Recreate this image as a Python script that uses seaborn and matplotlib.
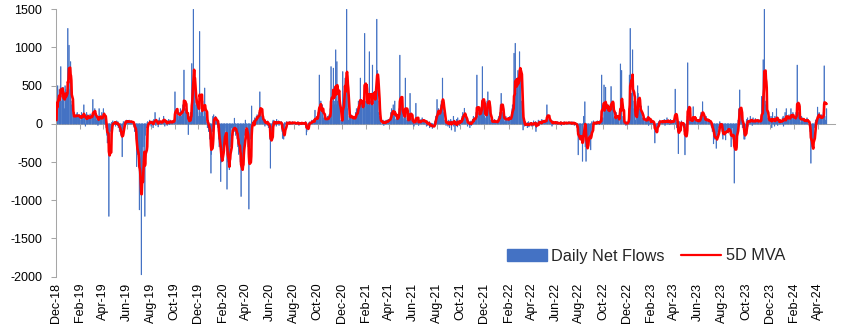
import numpy as np
import pandas as pd
import matplotlib
matplotlib.use("Agg")
import matplotlib.pyplot as plt
import matplotlib.dates as mdates
from matplotlib.patches import Patch
from matplotlib.lines import Line2D
import seaborn as sns

# ---------------- data: daily net flows, one list per month (business days) ----------------
flows_2018 = [  # starts in December
    [50, 480, 120, 500, 300, 450, 200, 350, 500, 750, 300, 420, 150, 480, 350, 200, 500, 450, 300, 350, 400],
]
flows_2019 = [
    [1250, 400, 550, 1030, 450, 815, 300, 250, 100, 150, 50, 120, 80, 150, 100, 60, 130, 90, 150, 100, 80, 120, 60],
    [100, 50, 150, 80, 120, 60, 250, 100, 40, 90, -30, 150, 80, 60, 120, 100, 50, 70, 130, 90],
    [80, 120, 60, 320, 150, 100, 200, 60, 90, 140, 50, 80, -20, 100, 60, 200, 40, 80, 60, 30, 150],
    [100, 200, 150, 50, 80, 20, -50, -100, -150, -250, -100, -1210, -250, -250, -100, -50, 20, 0, -30, 40, 10, 30],
    [20, 10, -30, 40, 0, -20, 30, -50, -100, -80, -60, -100, -150, -430, -60, -40, 30, 20, 10, 40, 30, 20, 50],
    [30, 20, 40, 10, 50, 30, 20, 40, 10, 30, 20, 10, -30, -50, -100, -150, -200, -560, -300, -400],
    [-500, -500, -1125, -400, -600, -1975, -500, -300, -300, -730, -300, -200, -1210, -150, -100, -50, 20, 30, -40, 10, 50, 30, 20],
    [20, -30, 40, 10, -50, 30, 60, 150, 20, -20, 40, 10, 30, -40, 50, 20, 80, 10, -10, 30, 20, 40],
    [60, 100, 40, 20, -30, 50, 30, 10, -20, 40, 60, 20, -10, 30, 50, 20, 10, 40, 30, 20, 60],
    [100, 420, 150, 80, 200, 120, 180, 100, 50, 150, 120, 200, 150, 100, 180, 250, 200, 180, 705, 150, 200, 100, 150],
    [150, 100, -140, 50, 100, 80, 150, 60, 120, 790, 300, 1500, 450, 500, 300, 250, 350, 200, 300, 250, 150],
    [100, 200, 1210, 150, 100, 250, 200, 150, 300, 100, 200, 470, 150, 80, 20, 60, -50, 0, 50, -100, -200, -150],
]
flows_2020 = [
    [-300, -645, -400, -100, 100, 80, 120, 60, 30, 100, 50, 60, 20, -50, -100, -200, -300, -200, -755, -400, -500, -350, -400],
    [-300, -200, -100, -150, -100, -50, -200, -855, -400, -500, -450, -600, -450, -300, -150, -50, -100, 0, -150, -100],
    [75, -100, -50, -150, -100, -200, -150, -300, -250, -400, -350, -500, -450, -950, -500, -600, -230, -400, -300, -150, 50, -50],
    [-50, -100, -200, -300, -400, -1115, -500, -300, -200, 0, 235, -50, -100, 0, 50, 20, 80, 40, 100, 60, 120, 80],
    [100, 150, 100, 420, 150, 200, 100, 80, 30, 60, 40, 20, -30, 50, 10, 30, -20, 40, 20, -50, 10],
    [-200, -580, -150, -100, -50, 30, 50, 20, -20, 40, 10, 30, -30, 60, 20, 10, 40, -20, 30, 20, 10, 30],
    [-50, -100, -190, -200, -150, -100, 20, 10, 30, -10, 20, 0, 10, 30, 20, -10, 10, 20, 0, 30, 10, 20, 10],
    [10, 20, 0, -10, 20, 10, 30, 0, 10, -20, 10, 20, 0, 10, 20, -10, 10, 0, 20, 10, 30],
    [-50, -145, -100, 0, -30, 10, 20, 0, 30, 10, 20, 50, 30, 20, 60, 10, 40, 180, 30, 80, 50, 100],
    [100, 150, 640, 100, 150, 100, 300, 200, 250, 150, 80, 50, 100, 60, 30, 80, 50, 100, 70, 40, 90, 120],
    [200, 300, 750, 200, 250, 300, 730, 200, 300, 250, 970, 200, 250, 815, 300, 400, 350, 300, 200, 50, 0],
    [30, 50, 100, 685, 300, 400, 500, 600, 300, 1500, 500, 200, 100, 50, 150, 80, 100, 60, 120, 80, 100, 50, 90],
]
flows_2021 = [
    [50, 100, 80, 150, 100, 200, 150, 200, 300, 250, 200, 600, 200, 150, 300, 250, 200, 350, 300, 500, 1185],
    [300, 200, 350, 250, 300, 250, 200, 945, 150, 300, 350, 200, 300, 770, 300, 250, 400, 350, 300, 450],
    [1370, 700, 400, 300, 150, 100, 50, 20, 40, 0, 30, 10, 50, 20, -20, 40, 30, 10, 50, 20, 30, 60, 40],
    [60, 40, 100, 150, 80, 200, 150, 250, 100, 80, 50, 300, 60, 40, 80, 100, 50, 150, 200, 150, 900, 200],
    [300, 200, 150, 100, 80, 60, 100, 150, 600, 100, 50, 80, 30, 60, 20, 100, 400, 50, 30, 80, 10],
    [40, 60, 20, -30, 50, 30, 270, 20, 10, 60, 40, -20, 30, 50, 20, 60, 10, 40, 80, 30, 20, 50],
    [30, 50, 20, -30, 10, 40, -20, 0, 30, -50, -40, -30, 10, -20, -60, -50, -30, 0, 30, 10, 50, 100],
    [320, 80, 100, 150, 200, 150, 100, 200, 250, 300, 600, 250, 150, 100, 50, 20, 30, -20, 10, 40, -30, 20],
    [50, 10, -50, 60, 30, -80, 40, 10, 100, -30, 50, 20, -100, 30, 60, 10, -40, 80, 20, -20, 50, 30],
    [30, 60, 100, 50, 150, 100, 205, 120, 100, 50, 20, 40, -30, 10, 50, 20, -50, 30, 10, 40, -20],
    [60, 50, 100, 30, 80, 60, 100, 150, 100, 640, 100, 80, 150, 100, 200, 150, 200, 250, 150, 750, 250, 200],
    [100, 50, 80, 150, 200, 300, 250, 420, 300, 200, 100, 50, 20, 40, 10, 30, 50, 20, 60, 30, 10, 40, 20],
]
flows_2022 = [
    [20, 50, 30, 80, 100, 150, 250, 200, 400, 250, 150, 100, 50, 80, 30, 60, 100, 40, 70, 50, 80],
    [50, 80, 60, 100, 50, 120, 150, 200, 250, 300, 925, 200, 300, 1055, 400, 500, 400, 600, 700, 600],
    [945, 700, 700, 600, 300, 150, 50, -80, 20, -30, 10, 30, -20, 0, -50, 20, -10, 30, -40, 10, 20, 0, -30],
    [20, -30, 10, 40, -20, 0, 30, -100, -50, 20, 10, 50, 30, -20, 10, 40, 0, 20, 60, 30, 10],
    [30, 50, 20, 40, 30, 60, 250, 80, 100, 60, 40, 80, 20, 50, 10, -30, 20, 40, 10, 30, 0, 20],
    [10, 20, 0, 30, -10, 10, 20, 0, 10, 30, 20, -20, 10, 0, 20, 10, 30, 0, 10, 20, 10, 0],
    [10, 20, 30, 0, 10, 20, -10, 10, 30, 0, 20, 10, -20, 10, 0, 20, -30, -50, -100, -80, -405],
    [-200, -100, -150, -150, -200, -250, -490, -100, 0, 100, 290, -300, -250, -490, -250, -300, -200, -150, -100, -150, -200, -340, -100],
    [10, 30, -20, 40, 0, 20, 10, -10, 30, 20, 0, 40, 10, 20, -10, 30, 50, 100, 640, 80, 50, 80],
    [510, 150, 200, 100, 480, 200, 150, 100, 250, 200, 150, 200, 250, 150, 490, 300, 200, 300, 50, 80, 100],
    [100, 50, 150, 100, 100, 50, 100, 50, 0, 785, 50, 0, 700, 100, 50, 30, 0, 20, 10, -20, 30, 0],
    [20, 0, 100, 200, 640, 300, 1250, 400, 300, 300, 970, 300, 200, 100, 200, 50, 0, 100, 300, 500, 400, 300],
]
flows_2023 = [
    [200, 150, 100, 200, 235, 50, 80, 30, 100, 50, 30, 60, 20, 80, 40, 60, 235, -20, 50, 10, 30, 60],
    [30, 50, 20, -10, 40, -20, -50, -250, -100, -80, -60, -20, 10, 30, 20, 50, 10, 40, 20, 30],
    [20, 40, 10, 60, 30, -20, 50, 20, 80, 10, 40, 20, 50, -10, 30, 60, 20, 10, 40, 30, 50, 20, 10],
    [455, 50, 100, 20, -50, -100, -390, -50, 20, 30, -20, 10, 40, -30, 0, 20, -50, -100, -150, -405],
    [-100, -50, 50, 100, 800, 100, 50, 30, 50, 20, 80, 30, 60, 40, 225, 60, 40, 20, 50, 80, 30, 60, 20],
    [40, 30, 60, 100, 80, 150, 120, 290, 100, 50, 80, 60, 30, 50, 100, 40, 20, 60, 30, 50, 40, 20],
    [20, -30, 10, -50, -100, -260, -100, -150, -200, -150, -320, -150, -200, -100, -100, -50, 0, 30, 10, -20, -50],
    [-100, -150, -200, -125, -100, -50, -80, -210, -100, -50, -80, -30, -120, -60, -100, -150, -100, -300, -120, -50, -200, -150, -250],
    [-775, -300, -200, -150, -100, -50, 50, 100, 200, 150, 445, 150, 100, 50, 0, -50, -100, -200, -150, -200, -100],
    [30, 60, 20, 80, -30, 40, 50, 10, 100, 30, 60, -20, 40, 80, 20, 50, 10, 70, 30, 40, 60, 20],
    [30, 50, 20, 60, 10, 40, 100, 360, 200, 840, 400, 500, 1500, 250, 300, 200, 100, 80, 50, 30, 60, 40],
    [50, 100, 30, -50, 80, 150, 20, 60, -30, 100, 40, 200, 10, 50, -20, 80, 30, 60, 10, 40, 20],
]
flows_2024 = [
    [30, 80, 50, 100, -30, 60, 150, 40, 20, 200, 80, 30, 100, 50, 120, 60, 80, 200, 100, 50, 150, 80, 60],
    [100, 50, 80, 150, 100, 200, 770, 150, 100, 50, 80, 20, 60, 100, 40, 80, 30, 60, 20, 50, 40],
    [50, 30, 80, 20, 60, 0, -20, -50, -100, -200, -515, -300, -250, -250, -300, -100, -50, 20, 50, 30, 60],
    [220, 100, 50, 80, 150, 60, 100, 40, 120, 80, 100, 150, 200, 760, 200, 50, 100, 200],
]

y_ticks = [1500, 1000, 500, 0, -500, -1000, -1500, -2000]
series_labels = ["Daily Net Flows", "5D MVA"]

# ---------------- assemble the daily series ----------------
blocks = [(2018, 12, flows_2018), (2019, 1, flows_2019), (2020, 1, flows_2020),
          (2021, 1, flows_2021), (2022, 1, flows_2022), (2023, 1, flows_2023),
          (2024, 1, flows_2024)]
dates, values = [], []
for year, start_month, months in blocks:
    for i, vals in enumerate(months):
        m = start_month + i
        first = pd.Timestamp(year=year, month=m, day=1)
        bdays = pd.bdate_range(first, first + pd.offsets.MonthEnd(0))
        n = min(len(vals), len(bdays))
        dates.extend(bdays[:n])
        values.extend(vals[:n])

df = pd.DataFrame({"date": pd.to_datetime(dates), "flow": values})
df["mva"] = df["flow"].rolling(5, min_periods=1).mean()

# ---------------- figure ----------------
sns.set_style("white")
plt.rcParams["font.family"] = ["Liberation Sans", "DejaVu Sans"]
plt.rcParams["axes.unicode_minus"] = False

W, H = 852, 333
fig = plt.figure(figsize=(W / 100, H / 100), dpi=100)
ax = fig.add_axes([55.7 / W, (H - 276.7) / H, (835 - 55.7) / W, 267.4 / H])

blue = "#4472C4"
red = "#FF0000"
grey = "#A6A6A6"

bars = ax.bar(df["date"], df["flow"], width=1.4, color=blue, edgecolor=blue,
              linewidth=0.45, zorder=2)
for b in bars:
    b.set_snap(False)
sns.lineplot(data=df, x="date", y="mva", ax=ax, color=red, linewidth=1.9,
             zorder=3, legend=False)

x0 = pd.Timestamp("2018-12-01")
ax.set_xlim(x0, x0 + pd.Timedelta(days=1992.6))
ax.set_ylim(-2000, 1500)
ax.set_yticks(y_ticks)
ax.set_yticklabels([str(v) for v in y_ticks])

tick_dates = pd.date_range("2018-12-01", "2024-04-01", freq="2MS")
ax.set_xticks(tick_dates)
ax.xaxis.set_major_formatter(mdates.DateFormatter("%b-%y"))
ax.set_xlabel("")
ax.set_ylabel("")

for s in ["top", "right", "bottom"]:
    ax.spines[s].set_visible(False)
ax.spines["left"].set_color(grey)
ax.spines["left"].set_linewidth(0.75)

ax.tick_params(axis="y", length=3.6, width=0.75, color=grey, pad=6,
               labelsize=9, labelcolor="black", left=True)
ax.tick_params(axis="x", length=0, pad=4.3, labelsize=9, labelcolor="black",
               rotation=90, bottom=True)

# horizontal axis line crossing at zero, with its tick marks
sec = ax.secondary_xaxis(2000 / 3500)
sec.set_xticks(mdates.date2num(tick_dates))
sec.tick_params(axis="x", direction="in", length=3.5, width=0.75, color=grey,
                labeltop=False, labelbottom=False)
for s in sec.spines.values():
    s.set_color(grey)
    s.set_linewidth(0.75)

handles = [Patch(facecolor=blue, edgecolor=blue),
           Line2D([0], [0], color=red, linewidth=1.6)]
ax.legend(handles, series_labels, ncol=2, frameon=False, fontsize=11.7,
          handlelength=2.45, handletextpad=0.3, columnspacing=1.0,
          loc="center", bbox_to_anchor=(646 / W, 1 - 256 / H),
          bbox_transform=fig.transFigure)

fig.savefig("out.png", dpi=100)
